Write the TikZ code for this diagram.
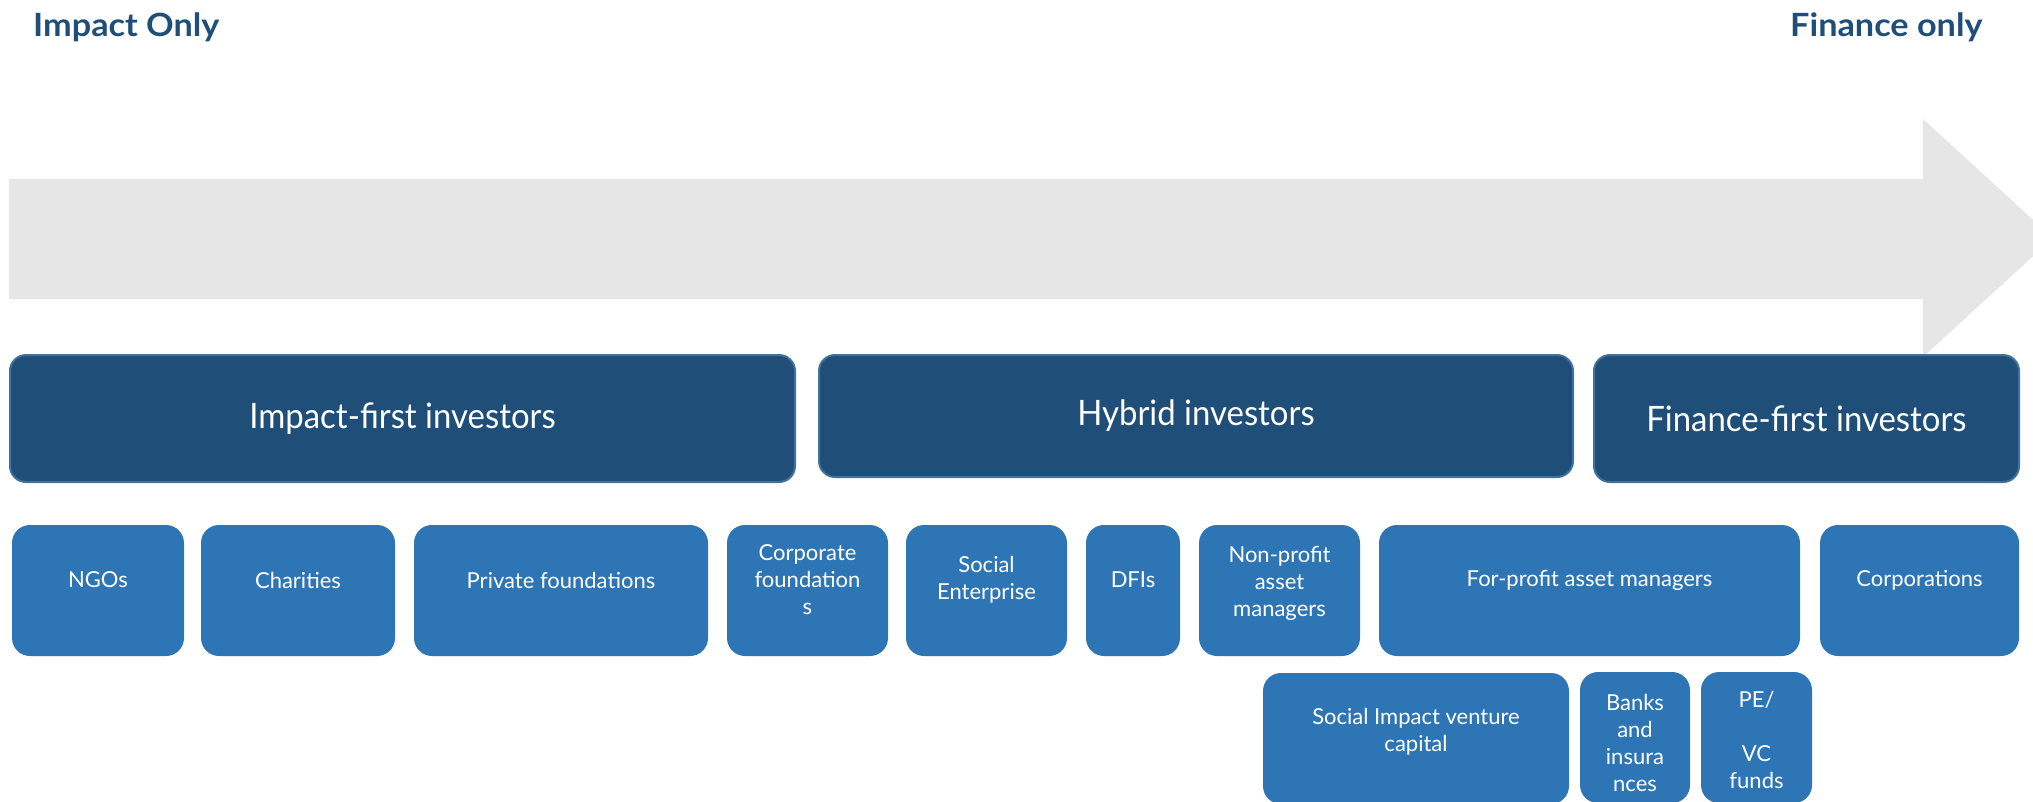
\documentclass[tikz,border=0pt]{standalone}
\usepackage{fontspec}
\setmainfont{Lato}
\newfontfamily\boxfont[FakeStretch=0.94]{Lato}
\newfontfamily\smallfont[FakeStretch=1.0]{Lato}
\newfontfamily\titlefont[FakeStretch=1.07]{Lato Bold}
\definecolor{titleblue}{HTML}{1F4E79}
\definecolor{topfill}{HTML}{1F4E79}
\definecolor{topedge}{HTML}{41719C}
\definecolor{smallfill}{HTML}{2E75B6}
\definecolor{arrowgray}{HTML}{E6E6E6}
\begin{document}
\begin{tikzpicture}[x=1pt,y=-1pt,
  topbox/.style={draw=topedge, line width=2pt, fill=topfill, rounded corners=16pt, inner sep=0pt},
  smallbox/.style={fill=smallfill, rounded corners=18pt, inner sep=0pt},
  toptext/.style={font=\boxfont\fontsize{35}{42}\selectfont, text=white},
  smalltext/.style={font=\smallfont\fontsize{22}{27}\selectfont, text=white, align=center},
  titletext/.style={font=\titlefont\fontsize{32}{38}\selectfont, text=titleblue, anchor=base west, inner sep=0pt}]
\useasboundingbox (0,0) rectangle (2033,801);
\clip (0,0) rectangle (2033,801);

% big arrow
\fill[arrowgray] (9,179) -- (1923,179) -- (1923,119) -- (2053,238) -- (1923,357) -- (1923,299) -- (9,299) -- cycle;

% titles
\node[titletext] (impactonly) at (33,36) {Impact Only};
\node[titletext] (financeonly) at (1790,36) {Finance only};

% top row
\node[topbox, minimum width=785pt, minimum height=127pt, label={[toptext]center:{Impact-first investors}}] (impact) at (402.5,418.5) {};
\node[topbox, minimum width=754pt, minimum height=122pt, label={[toptext]center:{Hybrid investors}}] (hybrid) at (1196,416) {};
\node[topbox, minimum width=425pt, minimum height=127pt, label={[toptext]center:{Finance-first investors}}] (finance) at (1806.5,418.5) {};

% second row
\tikzset{row2/.style={smallbox, minimum height=131pt}}
\node[row2, minimum width=172pt, label={[smalltext, yshift=10.5pt]center:{NGOs}}] (ngos) at (98,590.5) {};
\node[row2, minimum width=194pt, label={[smalltext, yshift=10.5pt]center:{Charities}}] (charities) at (298,590.5) {};
\node[row2, minimum width=294pt, label={[smalltext, yshift=10.5pt]center:{Private foundations}}] (private) at (561,590.5) {};
\node[row2, minimum width=161pt, label={[smalltext, yshift=10.5pt]center:{Corporate\\foundation\\s}}] (corpfound) at (807.5,590.5) {};
\node[row2, minimum width=161pt, label={[smalltext, yshift=10.5pt]center:{Social\\Enterprise}}] (socent) at (986.5,590.5) {};
\node[row2, minimum width=94pt, label={[smalltext, yshift=10.5pt]center:{DFIs}}] (dfis) at (1133,590.5) {};
\node[row2, minimum width=161pt, label={[smalltext, yshift=7pt]center:{Non-profit\\asset\\managers}}] (nonprofit) at (1279.5,590.5) {};
\node[row2, minimum width=421pt, label={[smalltext, yshift=10.5pt]center:{For-profit asset managers}}] (forprofit) at (1589.5,590.5) {};
\node[row2, minimum width=199pt, label={[smalltext, yshift=10.5pt]center:{Corporations}}] (corporations) at (1919.5,590.5) {};

% third row
\tikzset{row3/.style={smallbox, minimum height=131pt}}
\node[row3, minimum width=306pt, label={[smalltext, yshift=7pt]center:{Social Impact venture\\capital}}] (sivc) at (1416,738.5) {};
\node[row3, minimum width=110pt, label={[smalltext, yshift=-5pt]center:{Banks\\and\\insura\\nces}}] (banks) at (1635,737.5) {};
\node[row3, minimum width=111pt, label={[smalltext, yshift=-2pt]center:{PE/\\[27pt]VC\\funds}}] (pevc) at (1756.5,737.5) {};
\end{tikzpicture}
\end{document}
